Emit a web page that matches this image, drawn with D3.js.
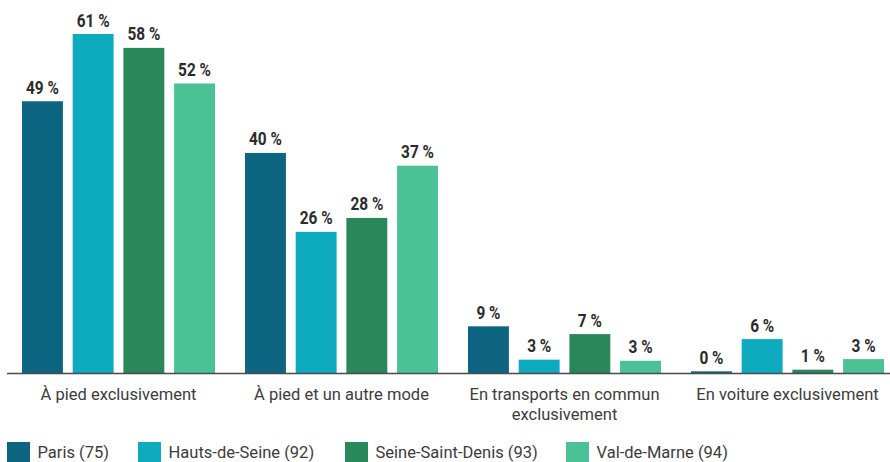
<!DOCTYPE html>
<html>
<head>
<meta charset="utf-8">
<script src="https://cdn.jsdelivr.net/npm/d3@7"></script>
<style>
  body { margin: 0; background: #fff; }
  text { font-family: Roboto, "Liberation Sans", sans-serif; }
</style>
</head>
<body>
<svg id="chart"></svg>
<script>
// donnees
const categories = ["À pied exclusivement", "À pied et un autre mode", "En transports en commun exclusivement", "En voiture exclusivement"];
const categoryLines = [["À pied exclusivement"], ["À pied et un autre mode"], ["En transports en commun", "exclusivement"], ["En voiture exclusivement"]];
const series = ["Paris (75)", "Hauts-de-Seine (92)", "Seine-Saint-Denis (93)", "Val-de-Marne (94)"];
const paris = [48.9, 39.6, 8.4, 0.3];
const hautsDeSeine = [61, 25.4, 2.4, 6.1];
const seineSaintDenis = [58.5, 27.9, 7.0, 0.6];
const valDeMarne = [52.1, 37.3, 2.2, 2.5];
const labels = [["49 %", "40 %", "9 %", "0 %"], ["61 %", "26 %", "3 %", "6 %"], ["58 %", "28 %", "7 %", "1 %"], ["52 %", "37 %", "3 %", "3 %"]];
const colors = ["#0e6582", "#0eaabd", "#2a8759", "#4bc196"];

const values = [paris, hautsDeSeine, seineSaintDenis, valDeMarne];

const width = 890;
const height = 462;
const baseY = 373;

const svg = d3.select("#chart")
  .attr("width", width)
  .attr("height", height);

// texte un peu condense (pas de Roboto Condensed ici)
function addText(x, yPos, sx) {
  return svg.append("g")
    .attr("transform", "translate(" + x + "," + yPos + ")")
    .append("text")
    .attr("transform", "scale(" + sx + ",1)");
}

const x0 = d3.scaleBand()
  .domain(categories)
  .range([7, 899])
  .paddingInner(0)
  .paddingOuter(0);

const x1 = d3.scaleBand()
  .domain(series)
  .range([15, 208])
  .paddingInner(0.193)
  .paddingOuter(0);

const y = d3.scaleLinear()
  .domain([0, 61])
  .range([baseY, 34]);

// barres
for (let s = 0; s < series.length; s++) {
  for (let c = 0; c < categories.length; c++) {
    const bx = x0(categories[c]) + x1(series[s]);
    svg.append("rect")
      .attr("x", bx)
      .attr("y", y(values[s][c]))
      .attr("width", x1.bandwidth())
      .attr("height", baseY - y(values[s][c]))
      .attr("fill", colors[s]);

    addText(bx + x1.bandwidth() / 2, y(values[s][c]) - 7.5, 0.88)
      .attr("text-anchor", "middle")
      .attr("font-size", 17.5)
      .attr("font-weight", "bold")
      .attr("fill", "#2b2b2b")
      .text(labels[s][c]);
  }
}

// axe
svg.append("line")
  .attr("x1", 7)
  .attr("x2", width)
  .attr("y1", baseY + 0.5)
  .attr("y2", baseY + 0.5)
  .attr("stroke", "#4a4a4a")
  .attr("stroke-width", 1.5);

categories.forEach((cat, i) => {
  categoryLines[i].forEach((line, j) => {
    addText(x0(cat) + x0.bandwidth() / 2, 400 + j * 20, 0.95)
      .attr("text-anchor", "middle")
      .attr("font-size", 17.4)
      .attr("fill", "#3c3c3c")
      .text(line);
  });
});

// legende
const legendX = [7, 138, 345, 566];
series.forEach((name, i) => {
  svg.append("rect")
    .attr("x", legendX[i])
    .attr("y", 442)
    .attr("width", 23)
    .attr("height", 20)
    .attr("fill", colors[i]);
  addText(legendX[i] + 30.5, 458, 0.95)
    .attr("font-size", 17.4)
    .attr("fill", "#3c3c3c")
    .text(name);
});
</script>
</body>
</html>
